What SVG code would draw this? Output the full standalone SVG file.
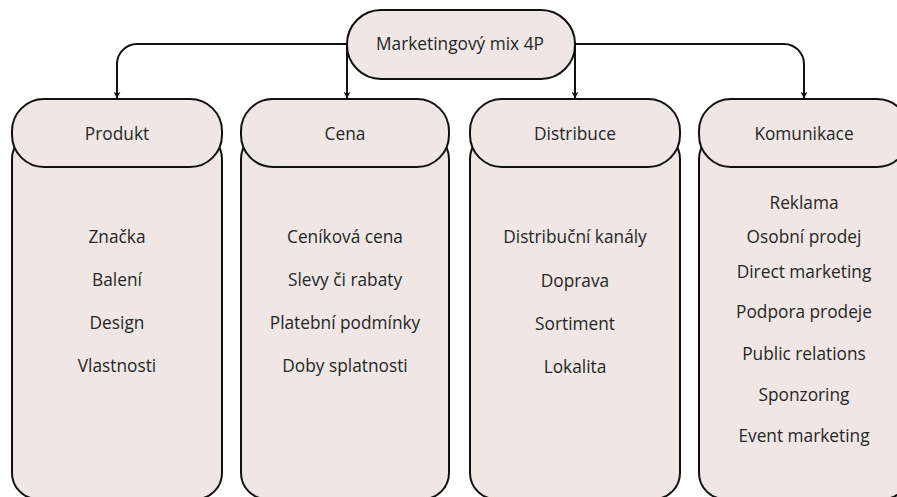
<svg xmlns="http://www.w3.org/2000/svg" width="897" height="497" viewBox="0 0 897 497">
<style>
.box{fill:#efe6e5;stroke:#111;stroke-width:2}
.t{font-family:"Open Sans","Liberation Sans",sans-serif;font-size:17.3px;fill:#262626;text-anchor:middle}
.c{fill:none;stroke:#111;stroke-width:2}
</style>
<defs>
<marker id="ah" viewBox="0 0 10 10" refX="9" refY="5" markerWidth="7" markerHeight="7" orient="auto" markerUnits="userSpaceOnUse">
<path d="M0,0 L10,5 L0,10 L3,5 Z" fill="#111"/>
</marker>
</defs>
<rect width="897" height="497" fill="#fff"/>
<g id="connectors">
<path class="c" d="M347,44 H137 A20,20 0 0 0 117,64 V98" marker-end="url(#ah)"/>
<path class="c" d="M347,44 V98" marker-end="url(#ah)"/>
<path class="c" d="M575,44 V98" marker-end="url(#ah)"/>
<path class="c" d="M575,44 H784 A20,20 0 0 1 804,64 V98" marker-end="url(#ah)"/>
</g>
<g id="root">
<rect class="box" x="347" y="10" width="228" height="69" rx="34" ry="34"/>
<text class="t" x="460" y="50">Marketingový mix 4P</text>
</g>
<g id="produkt">
<rect class="box" x="12" y="133" width="210" height="366" rx="26" ry="26"/>
<rect class="box" x="12" y="99" width="210" height="68" rx="32" ry="32"/>
<text class="t" x="117" y="140">Produkt</text>
<text class="t" x="117" y="243">Značka</text>
<text class="t" x="117" y="286">Balení</text>
<text class="t" x="117" y="329">Design</text>
<text class="t" x="117" y="372">Vlastnosti</text>
</g>
<g id="cena">
<rect class="box" x="241" y="133" width="208" height="366" rx="26" ry="26"/>
<rect class="box" x="241" y="99" width="208" height="68" rx="32" ry="32"/>
<text class="t" x="345" y="140">Cena</text>
<text class="t" x="345" y="243">Ceníková cena</text>
<text class="t" x="345" y="286">Slevy či rabaty</text>
<text class="t" x="345" y="329">Platební podmínky</text>
<text class="t" x="345" y="372">Doby splatnosti</text>
</g>
<g id="distribuce">
<rect class="box" x="470" y="133" width="210" height="366" rx="26" ry="26"/>
<rect class="box" x="470" y="99" width="210" height="68" rx="32" ry="32"/>
<text class="t" x="575" y="140">Distribuce</text>
<text class="t" x="575" y="243">Distribuční kanály</text>
<text class="t" x="575" y="287">Doprava</text>
<text class="t" x="575" y="330">Sortiment</text>
<text class="t" x="575" y="373">Lokalita</text>
</g>
<g id="komunikace">
<rect class="box" x="699" y="133" width="210" height="366" rx="26" ry="26"/>
<rect class="box" x="699" y="99" width="210" height="68" rx="32" ry="32"/>
<text class="t" x="804" y="140">Komunikace</text>
<text class="t" x="804" y="209">Reklama</text>
<text class="t" x="804" y="243">Osobní prodej</text>
<text class="t" x="804" y="278">Direct marketing</text>
<text class="t" x="804" y="318">Podpora prodeje</text>
<text class="t" x="804" y="360">Public relations</text>
<text class="t" x="804" y="401">Sponzoring</text>
<text class="t" x="804" y="442">Event marketing</text>
</g>
</svg>
